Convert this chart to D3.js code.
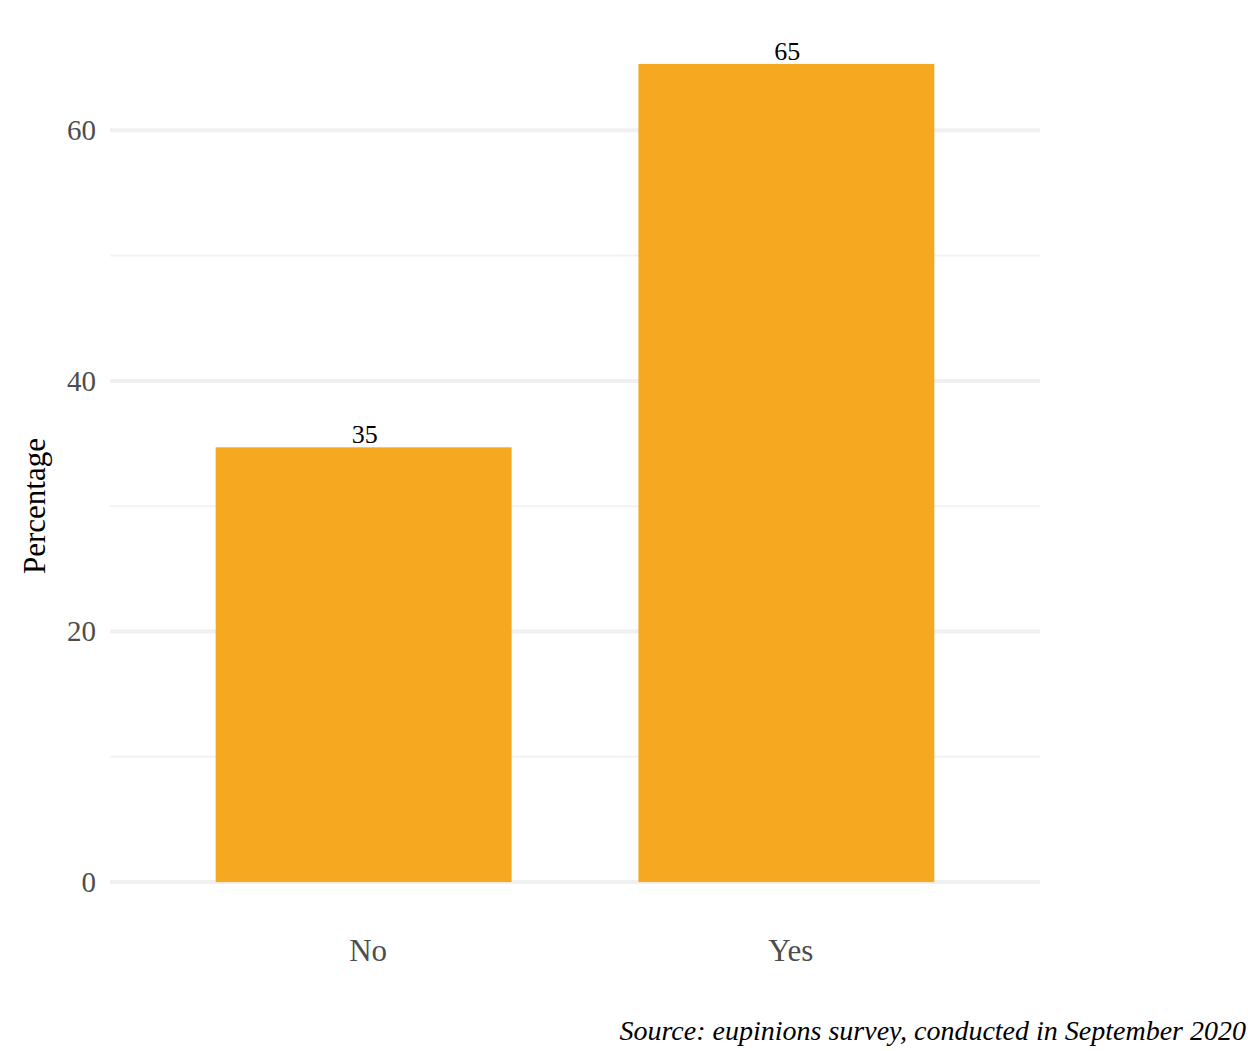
<!DOCTYPE html>
<html>
<head>
<meta charset="utf-8">
<script src="https://cdn.jsdelivr.net/npm/d3@7"></script>
<style>
  body { margin: 0; background: #fff; }
  text { font-family: "Liberation Serif", serif; }
</style>
</head>
<body>
<div class="canvas"></div>
<script>
// data
const categories = ["No", "Yes"];
const percentages = [34.7, 65.3];
const labels = ["35", "65"];
const yTicks = [0, 20, 40, 60];
const yMinorTicks = [10, 30, 50];
const sourceNote = "Source: eupinions survey, conducted in September 2020";

const width = 1248;
const height = 1051;
const margin = { top: 23, right: 208, bottom: 128, left: 110 };

const graphWidth = width - margin.left - margin.right;
const graphHeight = height - margin.top - margin.bottom;

const svg = d3.select(".canvas")
  .append("svg")
  .attr("width", width)
  .attr("height", height);

const graph = svg.append("g")
  .attr("transform", `translate(${margin.left}, ${margin.top})`);

// ggplot-like expansion: 5% on y, 0.6 units on discrete x
const yMax = d3.max(percentages);
const y = d3.scaleLinear()
  .domain([-yMax * 0.05, yMax * 1.05])
  .range([graphHeight, 0]);

const x = d3.scaleLinear()
  .domain([0.4, categories.length + 0.6])
  .range([0, graphWidth]);
const barWidth = x(0.7) - x(0);

// gridlines
graph.append("g")
  .selectAll("line.minor")
  .data(yMinorTicks)
  .enter().append("line")
    .attr("class", "minor")
    .attr("x1", 0).attr("x2", graphWidth)
    .attr("y1", d => y(d)).attr("y2", d => y(d))
    .attr("stroke", "#f2f2f2")
    .attr("stroke-width", 2);

graph.append("g")
  .selectAll("line.major")
  .data(yTicks)
  .enter().append("line")
    .attr("class", "major")
    .attr("x1", 0).attr("x2", graphWidth)
    .attr("y1", d => y(d)).attr("y2", d => y(d))
    .attr("stroke", "#f0f0f0")
    .attr("stroke-width", 4);

// bars
graph.selectAll("rect")
  .data(percentages)
  .enter().append("rect")
    .attr("x", (d, i) => x(i + 1) - barWidth / 2)
    .attr("width", barWidth)
    .attr("y", d => y(d))
    .attr("height", d => y(0) - y(d))
    .attr("fill", "#F5A921");

// value labels
graph.selectAll("text.value")
  .data(percentages)
  .enter().append("text")
    .attr("class", "value")
    .attr("x", (d, i) => x(i + 1) + 1)
    .attr("y", d => y(d) - 4)
    .attr("text-anchor", "middle")
    .attr("font-size", 26)
    .attr("fill", "#000")
    .text((d, i) => labels[i]);

// y axis labels
const yAxis = d3.axisLeft(y).tickValues(yTicks).tickSize(0).tickPadding(14);
const yAxisGroup = graph.append("g").call(yAxis);
yAxisGroup.select(".domain").remove();
yAxisGroup.selectAll("text")
  .style("font-size", "29px")
  .attr("fill", "#4d4d4d");

// x axis labels
const xAxis = d3.axisBottom(x)
  .tickValues(categories.map((c, i) => i + 1))
  .tickFormat((d, i) => categories[i])
  .tickSize(0).tickPadding(16);
const xAxisGroup = graph.append("g")
  .attr("transform", `translate(0, ${graphHeight})`)
  .call(xAxis);
xAxisGroup.select(".domain").remove();
xAxisGroup.selectAll("text")
  .attr("dx", 4)
  .style("font-size", "31px")
  .attr("fill", "#4d4d4d");

// y title
svg.append("text")
  .attr("transform", `translate(45, 506) rotate(-90)`)
  .attr("text-anchor", "middle")
  .attr("font-size", 31)
  .attr("fill", "#000")
  .text("Percentage");

// caption
svg.append("text")
  .attr("x", width - 2)
  .attr("y", 1040)
  .attr("text-anchor", "end")
  .attr("font-size", 28)
  .attr("font-style", "italic")
  .attr("fill", "#000")
  .text(sourceNote);
</script>
</body>
</html>
